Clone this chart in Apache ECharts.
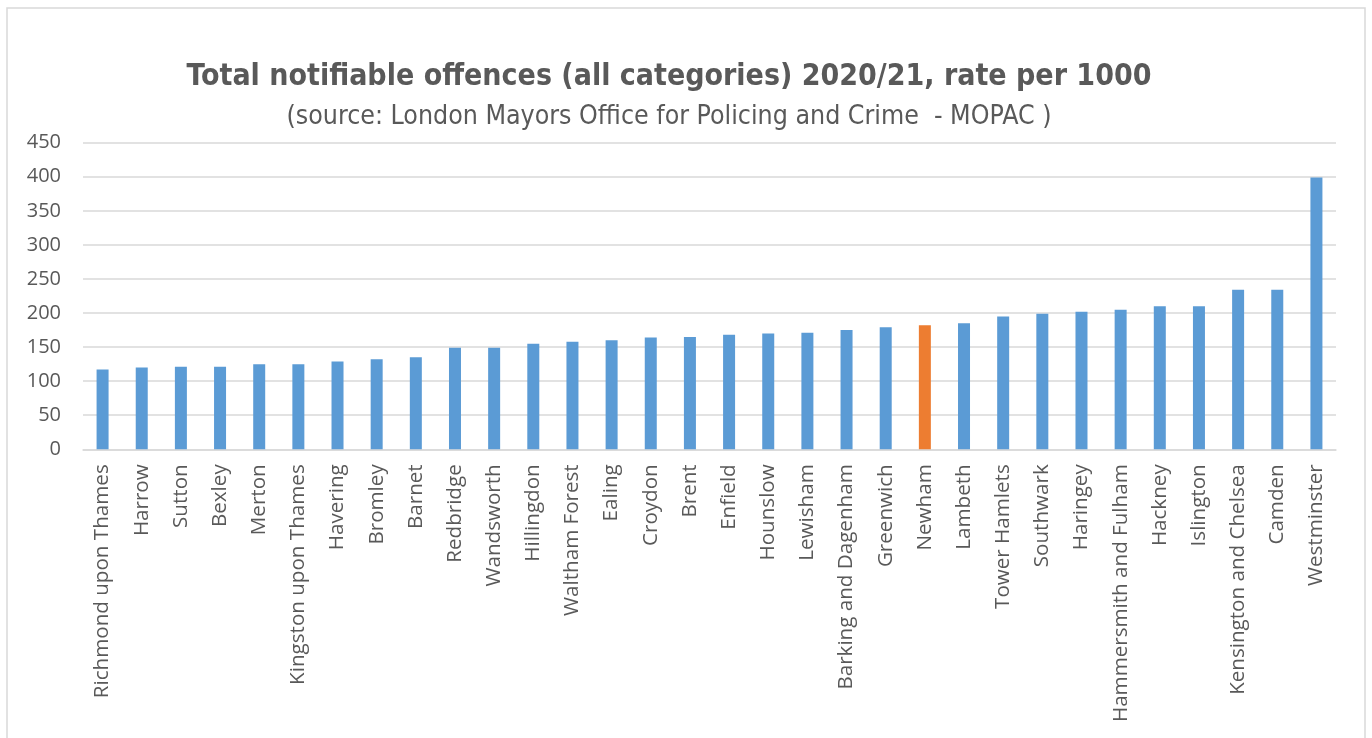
<!DOCTYPE html>
<html>
<head>
<meta charset="utf-8">
<title>Total notifiable offences 2020/21</title>
<script src="https://cdn.jsdelivr.net/npm/echarts@6/dist/echarts.min.js"></script>
<style>
  html, body { margin: 0; padding: 0; background: #ffffff; }
  #chart { width: 1372px; height: 738px; }
</style>
</head>
<body>
<div id="chart"></div>
<script>
// London boroughs, ordered by offence rate (lowest first)
const boroughs = [
  "Richmond upon Thames", "Harrow", "Sutton", "Bexley", "Merton",
  "Kingston upon Thames", "Havering", "Bromley", "Barnet", "Redbridge",
  "Wandsworth", "Hillingdon", "Waltham Forest", "Ealing", "Croydon",
  "Brent", "Enfield", "Hounslow", "Lewisham", "Barking and Dagenham",
  "Greenwich", "Newham", "Lambeth", "Tower Hamlets", "Southwark",
  "Haringey", "Hammersmith and Fulham", "Hackney", "Islington",
  "Kensington and Chelsea", "Camden", "Westminster"
];

// Total notifiable offences per 1000 residents, 2020/21
const ratePer1000 = [
  117, 120, 121, 121, 125,
  125, 129, 132, 135, 149,
  149, 155, 158, 160, 164,
  165, 168, 170, 171, 175,
  179, 182, 185, 195, 199,
  202, 205, 210, 210,
  234, 234, 399
];

const highlighted = "Newham";
const yTicks = [0, 50, 100, 150, 200, 250, 300, 350, 400, 450];

const barColor = "#5B9BD5";
const highlightColor = "#ED7D31";
const textColor = "#595959";

const seriesData = ratePer1000.map((v, i) => ({
  value: v,
  itemStyle: { color: boroughs[i] === highlighted ? highlightColor : barColor }
}));

const chart = echarts.init(document.getElementById("chart"), null, { renderer: "canvas" });

chart.setOption({
  backgroundColor: "#ffffff",
  animation: false,
  title: {
    text: "Total notifiable offences (all categories) 2020/21, rate per 1000",
    subtext: "(source: London Mayors Office for Policing and Crime  - MOPAC )",
    left: 664,
    textAlign: "center",
    top: 57,
    itemGap: 12,
    textStyle: {
      fontFamily: "DejaVu Sans Condensed, Roboto, sans-serif",
      fontWeight: "bold",
      fontSize: 30,
      color: textColor
    },
    subtextStyle: {
      fontFamily: "DejaVu Sans Condensed, Roboto, sans-serif",
      fontSize: 26.5,
      color: textColor
    }
  },
  graphic: [{
    type: "rect",
    shape: { x: 7, y: 8, width: 1358, height: 740 },
    style: { fill: "none", stroke: "#d9d9d9", lineWidth: 1.5 },
    silent: true
  }],
  grid: {
    left: 83,
    right: 1372 - 1336,
    top: 142.7,
    bottom: 738 - 449.3,
    containLabel: false
  },
  xAxis: {
    type: "category",
    data: boroughs,
    axisLine: { lineStyle: { color: "#d9d9d9", width: 1.5 } },
    axisTick: { show: false },
    axisLabel: {
      rotate: 90,
      interval: 0,
      margin: 15,
      color: textColor,
      fontFamily: "Open Sans",
      fontSize: 20.6
    }
  },
  yAxis: {
    type: "value",
    min: yTicks[0],
    max: yTicks[yTicks.length - 1],
    interval: yTicks[1] - yTicks[0],
    axisLine: { show: false },
    axisTick: { show: false },
    splitLine: { lineStyle: { color: "#d9d9d9", width: 1.5 } },
    axisLabel: {
      margin: 22,
      color: textColor,
      fontFamily: "Open Sans",
      fontSize: 20
    }
  },
  series: [{
    type: "bar",
    data: seriesData,
    barWidth: 12
  }]
});
</script>
</body>
</html>
